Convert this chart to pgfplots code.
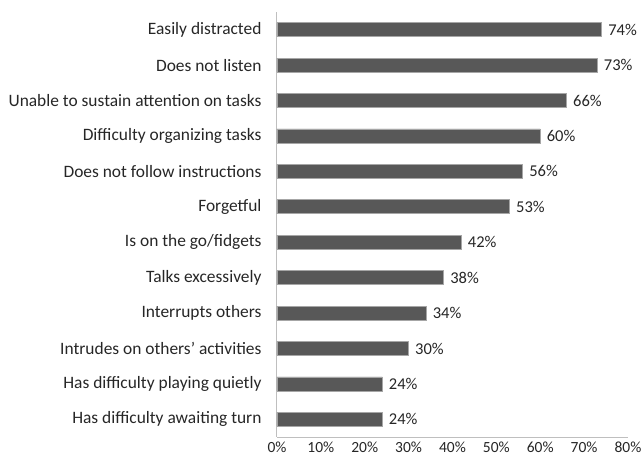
\documentclass[border=0pt]{standalone}
\usepackage{pgfplots}
\pgfplotsset{compat=1.18}
\usepackage{fontspec}
\setmainfont{Carlito}
\definecolor{barfill}{HTML}{585858}
\definecolor{baredge}{HTML}{A6A6A6}
\definecolor{axisline}{HTML}{BFBFBF}
\definecolor{txt}{HTML}{262626}
\newcommand{\apos}{{\char"0027}}
\begin{document}
\begin{tikzpicture}
\begin{axis}[
  scale only axis,
  width=351pt, height=425pt,
  xbar, bar width=14pt,
  xmin=0, xmax=80,
  ymin=-0.5, ymax=11.5,
  xtick={0,10,...,80},
  xticklabel={\pgfmathprintnumber{\tick}\%},
  ytick={0,...,11},
  yticklabels={Has difficulty awaiting turn,Has difficulty playing quietly,Intrudes on others\apos\ activities,Interrupts others,Talks excessively,Is on the go/fidgets,Forgetful,Does not follow instructions,Difficulty organizing tasks,Unable to sustain attention on tasks,Does not listen,Easily distracted},
  axis x line*=bottom, axis y line*=left,
  x axis line style={draw=axisline, line width=0.8pt, -},
  y axis line style={draw=axisline, line width=1pt, -},
  major tick length=0pt,
  /pgf/number format/assume math mode=true,
  tick label style={font=\fontsize{15.5}{17}\selectfont, text=txt},
  yticklabel style={font=\fontsize{17.4}{19}\selectfont, xshift=-12pt},
  xticklabel style={yshift=-1pt},
  nodes near coords={\pgfmathprintnumber{\pgfplotspointmeta}\%},
  nodes near coords style={font=\fontsize{16.5}{18}\selectfont, text=txt, xshift=3pt},
  point meta=x,
  clip=false,
]
\addplot[fill=barfill, draw=baredge, line width=0.6pt] coordinates {
  (24,0) (24,1) (30,2) (34,3) (38,4) (42,5)
  (53,6) (56,7) (60,8) (66,9) (73,10) (74,11)
};
\end{axis}
\pgfresetboundingbox
\path[use as bounding box] (-277pt,-20pt) rectangle (366pt,437pt);
\end{tikzpicture}
\end{document}
